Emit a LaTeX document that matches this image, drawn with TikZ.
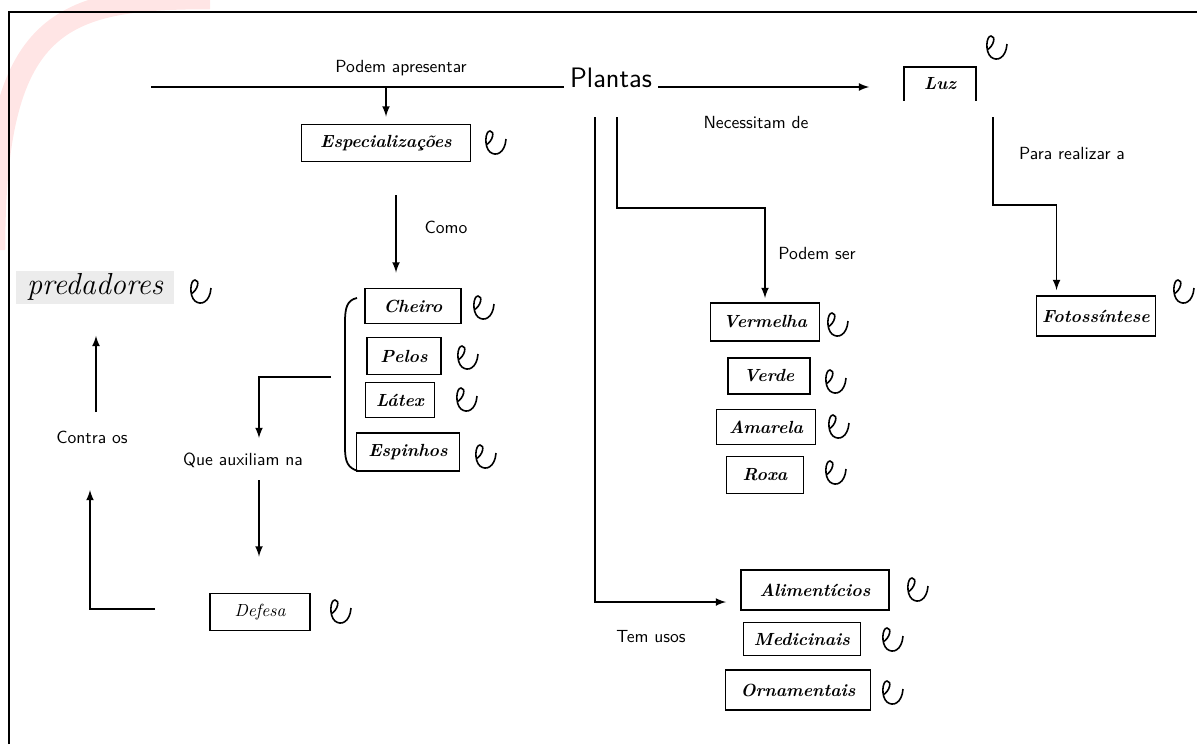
\documentclass[tikz,border=0pt]{standalone}
\usepackage{tikz}
\usetikzlibrary{positioning,calc}

\tikzset{
  caixa/.style={draw, line width=1.1pt, font=\bfseries\itshape, inner sep=0pt},
  rotulo/.style={font=\sffamily},
  liga/.style={line width=1pt},
  visto/.pic={
    \draw[line width=0.9pt] (-10,2) .. controls (-3,-2) and (-1,-12) .. (-6,-12)
      .. controls (-11,-12) and (-12,4) .. (-6,9) .. controls (0,14) and (9,10) .. (10,-4);
  }
}

\begin{document}
\begin{tikzpicture}[x=0.02cm, y=-0.02cm, >=latex]
   \useasboundingbox (0,0) rectangle (1197,744);

   % marca d'agua e moldura
   \draw[red!10, line width=4.5mm] (210,-2) .. controls (60,-2) and (-6,20) .. (-6,250);
   \draw[line width=1.6pt] (9,744) -- (9,12) -- (1197,12);

   % conceito central
   \node[font=\sffamily\fontsize{16}{18}\selectfont, anchor=base] (plantas) at (611,87) {Plantas};
   \coordinate (ramo) at (151,87);

   % caixas
   \node[caixa, minimum width=3.38cm, minimum height=0.74cm] (esp) at (386,143) {Especializações};
   \node[font=\bfseries\itshape, minimum width=1.42cm, minimum height=0.66cm, inner sep=0pt] (luz) at (940,84) {Luz};
   \draw[line width=1.1pt] (luz.south west) |- (luz.north east) -- (luz.south east);
   \node[caixa, minimum width=2.38cm, minimum height=0.8cm] (foto) at (1096,316) {Fotossíntese};

   \node[caixa, minimum width=1.92cm, minimum height=0.7cm] (cheiro) at (413,306) {Cheiro};
   \node[caixa, minimum width=1.48cm, minimum height=0.74cm] (pelos) at (404,356) {Pelos};
   \node[caixa, minimum width=1.38cm, minimum height=0.7cm] (latex) at (400,400) {Látex};
   \node[caixa, minimum width=2.06cm, minimum height=0.76cm] (espinhos) at (408,452) {Espinhos};
   \node[caixa, minimum width=2cm, minimum height=0.74cm, font=\itshape] (defesa) at (260,612) {Defesa};
   \node[fill=gray!15, font=\itshape\LARGE, minimum width=3.18cm, minimum height=0.66cm, inner sep=0pt] (pred) at (95,287) {predadores};

   \node[caixa, minimum width=2.18cm, minimum height=0.76cm] (vermelha) at (765,322) {Vermelha};
   \node[caixa, minimum width=1.64cm, minimum height=0.72cm] (verde) at (769,376) {Verde};
   \node[caixa, minimum width=1.98cm, minimum height=0.7cm] (amarela) at (766,427) {Amarela};
   \node[caixa, minimum width=1.54cm, minimum height=0.74cm] (roxa) at (765,475) {Roxa};

   \node[caixa, minimum width=2.96cm, minimum height=0.8cm] (alim) at (815,590) {Alimentícios};
   \node[caixa, minimum width=2.34cm, minimum height=0.66cm] (medic) at (802,639) {Medicinais};
   \node[caixa, minimum width=2.9cm, minimum height=0.8cm] (orna) at (798,690) {Ornamentais};

   % frases de ligacao
   \node[rotulo] (apresentar) at (401,68) {Podem apresentar};
   \node[rotulo] (necessitam) at (756,122) {Necessitam de};
   \node[rotulo] (podemser) at (817,253) {Podem ser};
   \node[rotulo] (realizar) at (1072,153) {Para realizar a};
   \node[rotulo] (como) at (446,227) {Como};
   \node[rotulo] (auxiliam) at (243,460) {Que auxiliam na};
   \node[rotulo] (contra) at (92,437) {Contra os};
   \node[rotulo] (usos) at (651,637) {Tem usos};

   % pontos soltos das ligacoes
   \coordinate (p1) at (595,117);
   \coordinate (p2) at (617,117);
   \coordinate (p2b) at (617,208);
   \coordinate (l1) at (993,117);
   \coordinate (l2) at (993,205);
   \coordinate (c1) at (396,195);
   \coordinate (chave) at (331,377);
   \coordinate (aux1) at (259,438);
   \coordinate (aux2) at (259,480);
   \coordinate (def1) at (155,609);
   \coordinate (cont1) at (90,490);
   \coordinate (cont2) at (96,412);

   % ligacoes
   \draw[liga] (ramo) -- (plantas.base west);
   \draw[liga,->,shorten >=0.7cm] (plantas.base east) -- (plantas.base -| luz.west);
   \draw[liga,->,shorten >=0.14cm] (esp.north |- ramo) -- (esp.north);
   \draw[liga,->,shorten >=0.3cm] (c1) -- (c1 |- cheiro.north);
   \draw[liga,->] (chave) -| (aux1);
   \draw[liga,->,shorten >=0.72cm] (aux2) -- (aux2 |- defesa.north);
   \draw[liga,->] (def1) -| (cont1);
   \draw[liga,->,shorten >=0.64cm] (cont2) -- (cont2 |- pred.south);
   \draw[liga,->,shorten >=0.28cm] (p1) |- ($(alim.west)+(0,12)$);
   \draw[liga,->,shorten >=0.08cm] (p2) -- (p2b) -| (vermelha.north);
   \draw[liga,->,shorten >=0.1cm] (l1) -- (l2) -| ($(foto.north west)+(21,0)$);

   % chave das especializacoes
   \draw[line width=1pt] (357,298) .. controls (347,300) and (345,308) .. (345,322)
     -- (345,448) .. controls (345,462) and (348,468) .. (358,471);

   % vistos
   \foreach \pos in {(997,48),(496,143),(484,308),(468,358),(467,400),(486,457),
     (341,612),(201,292),(838,325),(836,382),(839,427),(836,473),(1184,292),
     (918,590),(893,640),(893,693)}
   \pic at \pos {visto};
\end{tikzpicture}
\end{document}
